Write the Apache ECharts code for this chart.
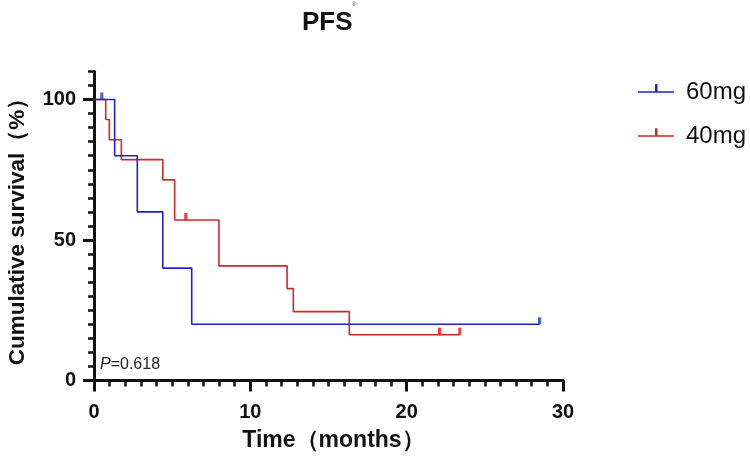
<!DOCTYPE html>
<html>
<head>
<meta charset="utf-8">
<script src="https://cdn.jsdelivr.net/npm/echarts@6/dist/echarts.min.js"></script>
<style>
html,body{margin:0;padding:0;background:#fff;}
#c{width:750px;height:462px;}
</style>
</head>
<body>
<div id="c"></div>
<script>
// Kaplan-Meier step data (months, survival %)
const timesBlue = [0, 1.32, 2.77, 4.40, 6.25, 28.5];
const survBlue  = [100, 80, 60, 40, 20, 20];
const timesRed  = [0, 0.75, 0.98, 1.75, 4.40, 5.16, 7.99, 12.35, 12.75, 16.33, 23.4];
const survRed   = [100, 92.9, 85.7, 78.6, 71.4, 57.1, 40.8, 32.7, 24.5, 16.3, 16.3];
// censored observations
const censorBlueT = [0.5, 28.5];
const censorBlueS = [100, 20];
const censorRedT  = [5.87, 22.1, 23.4];
const censorRedS  = [57.1, 16.3, 16.3];
const seriesNames = ['60mg', '40mg'];
const xTicks = [0, 10, 20, 30];
const yTicks = [0, 50, 100];

const zip = (a, b) => a.map((v, i) => [v, b[i]]);
const tickFont = "'Liberation Sans', Arial, sans-serif";
const blue = '#1c22c4', red = '#cc2a2a';
const blueC = '#1034d0', redC = '#e01010';

const chart = echarts.init(document.getElementById('c'));
chart.setOption({
  animation: false,
  backgroundColor: '#fff',
  title: {
    text: 'PFS',
    left: 297, top: 5,
    textStyle: {fontFamily: tickFont, fontWeight: 'bold', fontSize: 26, color: '#111'}
  },
  grid: {left: 94, right: 187, top: 71.4, bottom: 81.5, containLabel: false, outerBoundsMode: 'none'},
  legend: {
    data: seriesNames,
    orient: 'vertical',
    left: 633, top: 75,
    itemWidth: 36, itemHeight: 15.5,
    itemGap: 20,
    icon: 'path://M0,10 L36,10 L36,11.5 L0,11.5 Z M17,3 L19.5,3 L19.5,10 L17,10 Z M0,18.5 L0.01,18.5 L0,18.5 Z',
    textStyle: {fontFamily: tickFont, fontSize: 24, color: '#111', padding: [0, 0, 0, 7]}
  },
  xAxis: {
    type: 'value', min: 0, max: 30, interval: 10,
    name: 'Time（months）', nameLocation: 'middle', nameGap: 49,
    nameTextStyle: {fontFamily: tickFont, fontWeight: 'bold', fontSize: 23, color: '#111', padding: [0, 0, 0, 10]},
    axisLine: {show: true, lineStyle: {color: '#111', width: 3}},
    axisTick: {show: true, length: 11, lineStyle: {color: '#111', width: 3}, customValues: xTicks},
    minorTick: {show: true, splitNumber: 10, length: 6, lineStyle: {color: '#111', width: 2.5}},
    axisLabel: {margin: 22, fontFamily: tickFont, fontWeight: 'bold', fontSize: 20, color: '#111', customValues: xTicks},
    splitLine: {show: false}
  },
  yAxis: [{
    type: 'value', min: 0, max: 110, interval: 50,
    name: 'Cumulative survival（%）', nameLocation: 'middle', nameGap: 65, nameRotate: 90,
    nameTextStyle: {fontFamily: tickFont, fontWeight: 'bold', fontSize: 22.5, color: '#111'},
    axisLine: {show: true, lineStyle: {color: '#111', width: 3}},
    axisTick: {show: true, length: 11, lineStyle: {color: '#111', width: 3}, customValues: yTicks},
    axisLabel: {margin: 18, fontFamily: tickFont, fontWeight: 'bold', fontSize: 20, color: '#111', customValues: yTicks},
    splitLine: {show: false}
  }, {
    type: 'value', min: 0, max: 110, interval: 5, position: 'left', offset: 0,
    axisLine: {show: false},
    axisTick: {show: true, length: 6, lineStyle: {color: '#111', width: 2.5}},
    axisLabel: {show: false},
    splitLine: {show: false}
  }],
  series: [
    {name: seriesNames[0], type: 'line', step: 'end', symbol: 'none', data: zip(timesBlue, survBlue),
     lineStyle: {color: blue, width: 1.6}, itemStyle: {color: blue}, z: 3},
    {name: seriesNames[1], type: 'line', step: 'end', symbol: 'none', data: zip(timesRed, survRed),
     lineStyle: {color: red, width: 1.6}, itemStyle: {color: red}, z: 2},
    {name: 'c60', type: 'scatter', symbol: 'rect', symbolSize: [3, 7], symbolOffset: [0, -3.5],
     data: zip(censorBlueT, censorBlueS), itemStyle: {color: blueC}, z: 4},
    {name: 'c40', type: 'scatter', symbol: 'rect', symbolSize: [3, 7], symbolOffset: [0, -3.5],
     data: zip(censorRedT, censorRedS), itemStyle: {color: redC}, z: 4}
  ],
  graphic: [
    {type: 'text', left: 100, top: 357,
     style: {text: '{i|P}=0.618', fontFamily: tickFont, fontSize: 16, fill: '#222',
       rich: {i: {fontStyle: 'italic', fontFamily: tickFont, fontSize: 16, fill: '#222'}}}},
    {type: 'text', left: 352, top: 1,
     style: {text: '®', fontFamily: tickFont, fontSize: 6, fill: '#555'}}
  ]
});
</script>
</body>
</html>
